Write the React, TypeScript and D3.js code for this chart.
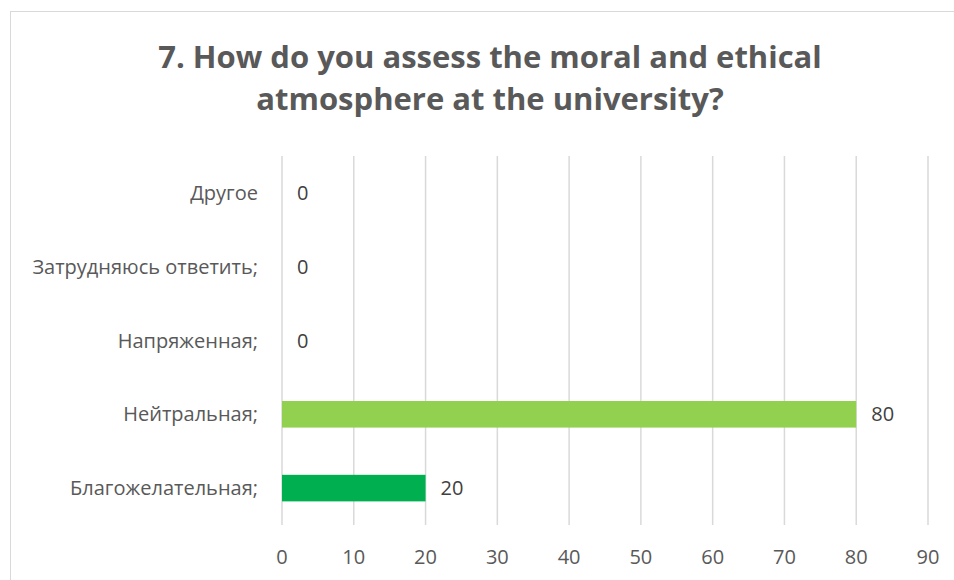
import React from "react";
import * as d3 from "d3";

const categories = ["Другое", "Затрудняюсь ответить;", "Напряженная;", "Нейтральная;", "Благожелательная;"];
const values = [0, 0, 0, 80, 20];
const barColors = ["#92D050", "#92D050", "#92D050", "#92D050", "#00B050"];
const xTicks = [0, 10, 20, 30, 40, 50, 60, 70, 80, 90];
const titleLines = ["7. How do you assess the moral and ethical", "atmosphere at the university?"];

const W = 954;
const H = 580;
const plot = { left: 282, right: 928, top: 156, bottom: 525 };
const font = "'Open Sans', 'Noto Sans', sans-serif";
const textColor = "#595959";

export default function App() {
  const x = d3.scaleLinear().domain([0, 90]).range([plot.left, plot.right]);
  const y = d3
    .scaleBand<string>()
    .domain(categories)
    .range([plot.top, plot.bottom])
    .paddingInner(0.64)
    .paddingOuter(0.32);

  return (
    <svg
      width={W}
      height={H}
      style={{ position: "absolute", left: 0, top: 0, background: "#fff" }}
      fontFamily={font}
    >
      <rect x={10.5} y={11.5} width={W + 10} height={H + 10} fill="#fff" stroke="#d9d9d9" strokeWidth={1} />
      {titleLines.map((t, i) => (
        <text
          key={i}
          x={490}
          y={68 + i * 42}
          textAnchor="middle"
          fontSize={31}
          fontWeight="bold"
          fill={textColor}
        >
          {t}
        </text>
      ))}
      {xTicks.map((t) => (
        <g key={t}>
          <line x1={x(t)} x2={x(t)} y1={plot.top} y2={plot.bottom} stroke="#d9d9d9" strokeWidth={1.5} />
          <text x={x(t)} y={564} textAnchor="middle" fontSize={20} fill={textColor}>
            {t}
          </text>
        </g>
      ))}
      {categories.map((c, i) => {
        const yy = y(c)!;
        const bw = y.bandwidth();
        const cy = yy + bw / 2;
        return (
          <g key={c}>
            {values[i] > 0 && (
              <rect x={x(0)} y={yy} width={x(values[i]) - x(0)} height={bw} fill={barColors[i]} />
            )}
            <text x={258} y={cy} dy="0.35em" textAnchor="end" fontSize={20} fill={textColor}>
              {c}
            </text>
            <text x={x(values[i]) + 15} y={cy} dy="0.35em" textAnchor="start" fontSize={20} fill="#404040">
              {values[i]}
            </text>
          </g>
        );
      })}
    </svg>
  );
}
